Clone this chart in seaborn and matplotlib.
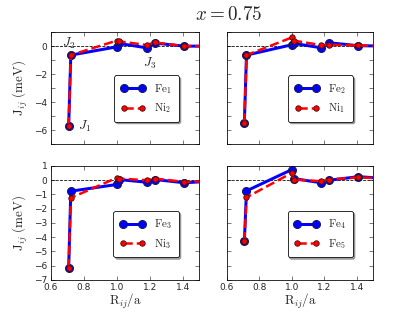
import pandas as pd
import matplotlib
matplotlib.use("Agg")
import matplotlib.pyplot as plt
import seaborn as sns

# pair distances (units of a); last point lies past the axis edge
R = [0.707, 0.72, 1.0, 1.01, 1.18, 1.23, 1.41, 1.6]

fe1 = [-5.72, -0.64, -0.05, 0.20, -0.12, 0.22, 0.00, 0.00]
ni2 = [-5.72, -0.64, 0.40, 0.35, 0.08, 0.26, 0.00, 0.00]
fe2 = [-5.46, -0.64, 0.10, 0.20, -0.12, 0.24, 0.03, 0.00]
ni1 = [-5.46, -0.64, 0.62, 0.40, 0.07, 0.10, 0.05, 0.00]
fe3 = [-6.18, -0.77, -0.30, 0.05, -0.14, 0.05, -0.18, -0.05]
ni3 = [-6.18, -1.24, 0.17, 0.12, 0.00, 0.12, -0.12, -0.05]
fe4 = [-4.29, -0.75, 0.75, 0.12, -0.18, 0.00, 0.25, 0.10]
fe5 = [-4.29, -1.21, 0.52, 0.05, -0.07, 0.05, 0.20, 0.10]

panels = [
    (fe1, r"$\mathrm{Fe}_1$", ni2, r"$\mathrm{Ni}_2$"),
    (fe2, r"$\mathrm{Fe}_2$", ni1, r"$\mathrm{Ni}_1$"),
    (fe3, r"$\mathrm{Fe}_3$", ni3, r"$\mathrm{Ni}_3$"),
    (fe4, r"$\mathrm{Fe}_4$", fe5, r"$\mathrm{Fe}_5$"),
]

sns.set_style("ticks")
plt.rcParams["font.family"] = ["DejaVu Sans"]
plt.rcParams["mathtext.fontset"] = "cm"
plt.rcParams["xtick.direction"] = "in"
plt.rcParams["ytick.direction"] = "in"

fig = plt.figure(figsize=(415 / 72, 312 / 72), dpi=72)
boxes = [
    [0.123, 0.538, 0.357, 0.359],
    [0.547, 0.538, 0.352, 0.359],
    [0.123, 0.103, 0.357, 0.365],
    [0.547, 0.103, 0.352, 0.365],
]

for i, (blue, blab, red, rlab) in enumerate(panels):
    ax = fig.add_axes(boxes[i])
    ax.axhline(0, color="k", ls="--", lw=0.8, zorder=1)
    df = pd.DataFrame({"R": R, "blue": blue, "red": red})
    sns.lineplot(data=df, x="R", y="blue", ax=ax, sort=False, color="blue",
                 lw=3, marker="o", ms=8, mec="#1a1a50", mew=1, label=blab)
    sns.lineplot(data=df, x="R", y="red", ax=ax, sort=False, color="red",
                 lw=2.5, ls="--", marker="o", ms=5.5, mec="#3a1010", mew=0.8,
                 label=rlab)
    ax.set_xlim(0.6, 1.5)
    ax.set_ylim(-7, 1)
    ax.set_xticks([0.6, 0.8, 1.0, 1.2, 1.4])
    ax.tick_params(top=True, right=True, labelsize=9, length=4, width=0.6)
    for s in ax.spines.values():
        s.set_linewidth(0.8)
        s.set_color("k")
    if i < 2:
        ax.set_yticks(range(-7, 2))
        ax.set_yticklabels(["", "\u22126", "", "\u22124", "", "\u22122", "", "0", ""])
        ax.set_xticklabels([])
        ax.set_xlabel("")
    else:
        ax.set_yticks(range(-7, 2))
        ax.set_xlabel(r"$\mathrm{R}_{ij}\mathrm{/a}$", fontsize=13, labelpad=0)
    if i % 2 == 1:
        ax.set_yticklabels([])
        ax.set_ylabel("")
    else:
        ax.set_ylabel(r"$\mathrm{J}_{ij}\ \mathrm{(meV)}$", fontsize=13)
    leg = ax.legend(loc="lower right", bbox_to_anchor=(0.9, 0.15), numpoints=2,
                    fancybox=True, shadow=True, fontsize=11, handlelength=2.3,
                    borderpad=0.6, framealpha=1, edgecolor="k")
    leg.get_frame().set_linewidth(0.8)

ax0 = fig.axes[0]
ax0.text(0.765, -5.75, r"$J_1$", fontsize=13, va="center")
ax0.text(0.665, 0.2, r"$J_2$", fontsize=13, va="center")
ax0.text(1.16, -1.25, r"$J_3$", fontsize=13, va="center")

fig.text(0.55, 0.955, r"$x=0.75$", fontsize=19, ha="center", va="center")

fig.savefig("out.png", dpi=72)
